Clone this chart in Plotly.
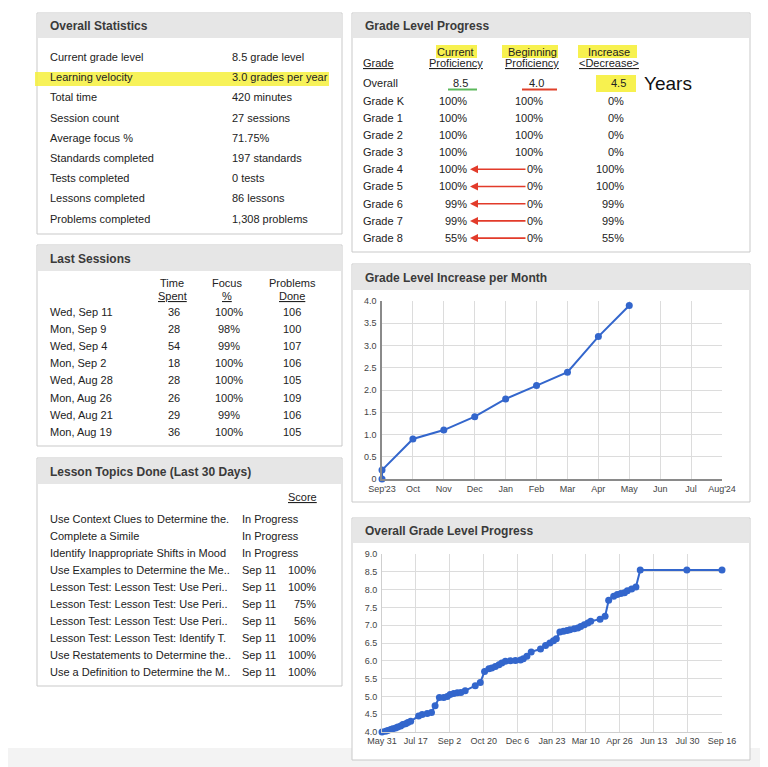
import plotly.graph_objects as go

# The page body has an 8px margin, so the figure is sized to fill the rest of the
# 768x767 window and reference pixel positions are offset by that margin.
OFF = 8
W, H = 768 - OFF, 767 - OFF
FONT = "Liberation Sans, Arial, sans-serif"

# ---------------- data ----------------
stat_labels = ["Current grade level", "Learning velocity", "Total time", "Session count",
               "Average focus %", "Standards completed", "Tests completed",
               "Lessons completed", "Problems completed"]
stat_values = ["8.5 grade level", "3.0 grades per year", "420 minutes", "27 sessions",
               "71.75%", "197 standards", "0 tests", "86 lessons", "1,308 problems"]

session_dates = ["Wed, Sep 11", "Mon, Sep 9", "Wed, Sep 4", "Mon, Sep 2",
                 "Wed, Aug 28", "Mon, Aug 26", "Wed, Aug 21", "Mon, Aug 19"]
session_time = [36, 28, 54, 18, 28, 26, 29, 36]
session_focus = ["100%", "98%", "99%", "100%", "100%", "100%", "99%", "100%"]
session_problems = [106, 100, 107, 106, 105, 109, 106, 105]

lesson_topics = ["Use Context Clues to Determine the.", "Complete a Simile",
                 "Identify Inappropriate Shifts in Mood", "Use Examples to Determine the Me..",
                 "Lesson Test: Lesson Test: Use Peri..", "Lesson Test: Lesson Test: Use Peri..",
                 "Lesson Test: Lesson Test: Use Peri..", "Lesson Test: Lesson Test: Identify T.",
                 "Use Restatements to Determine the..", "Use a Definition to Determine the M.."]
lesson_dates = ["In Progress", "In Progress", "In Progress", "Sep 11", "Sep 11",
                "Sep 11", "Sep 11", "Sep 11", "Sep 11", "Sep 11"]
lesson_scores = ["", "", "", "100%", "100%", "75%", "56%", "100%", "100%", "100%"]

grade_names = ["Grade K", "Grade 1", "Grade 2", "Grade 3", "Grade 4",
               "Grade 5", "Grade 6", "Grade 7", "Grade 8"]
current_prof = ["100%", "100%", "100%", "100%", "100%", "100%", "99%", "99%", "55%"]
beginning_prof = ["100%", "100%", "100%", "100%", "0%", "0%", "0%", "0%", "0%"]
increase_prof = ["0%", "0%", "0%", "0%", "100%", "100%", "99%", "99%", "55%"]
overall_current, overall_beginning, overall_increase = "8.5", "4.0", "4.5"

month_labels = ["Sep'23", "Oct", "Nov", "Dec", "Jan", "Feb", "Mar", "Apr",
                "May", "Jun", "Jul", "Aug'24"]
month_points = ["Sep'23", "Sep'23", "Oct", "Nov", "Dec", "Jan", "Feb", "Mar", "Apr", "May"]
month_increase = [0.0, 0.2, 0.9, 1.1, 1.4, 1.8, 2.1, 2.4, 3.2, 3.9]

progress_dates = ["2023-05-31", "2023-06-05", "2023-06-08", "2023-06-12", "2023-06-15",
                  "2023-06-19", "2023-06-22", "2023-06-26", "2023-06-29", "2023-07-03",
                  "2023-07-06", "2023-07-10", "2023-07-21", "2023-07-26", "2023-08-02",
                  "2023-08-08", "2023-08-13", "2023-08-19", "2023-08-25", "2023-08-30",
                  "2023-09-03", "2023-09-08", "2023-09-13", "2023-09-18", "2023-09-24",
                  "2023-10-08", "2023-10-15", "2023-10-21", "2023-10-27", "2023-10-31",
                  "2023-11-05", "2023-11-10", "2023-11-14", "2023-11-19", "2023-11-26",
                  "2023-12-03", "2023-12-10", "2023-12-14", "2023-12-19", "2023-12-25",
                  "2024-01-07", "2024-01-14", "2024-01-20", "2024-01-25", "2024-01-29",
                  "2024-02-03", "2024-02-08", "2024-02-13", "2024-02-17", "2024-02-23",
                  "2024-02-28", "2024-03-03", "2024-03-08", "2024-03-13", "2024-03-17",
                  "2024-03-30", "2024-04-06", "2024-04-11", "2024-04-18", "2024-04-23",
                  "2024-04-28", "2024-05-03", "2024-05-07", "2024-05-13", "2024-05-19",
                  "2024-05-25", "2024-07-29", "2024-09-16"]
progress_values = [4.00, 4.02, 4.04, 4.07, 4.09, 4.11, 4.14, 4.17, 4.21, 4.23,
                   4.27, 4.30, 4.45, 4.49, 4.52, 4.55, 4.74, 4.97, 4.97, 5.00,
                   5.05, 5.08, 5.10, 5.11, 5.16, 5.30, 5.39, 5.70, 5.78, 5.80,
                   5.84, 5.89, 5.94, 5.99, 6.00, 6.01, 6.02, 6.06, 6.13, 6.25,
                   6.33, 6.43, 6.50, 6.56, 6.62, 6.81, 6.83, 6.85, 6.87, 6.90,
                   6.92, 6.96, 7.01, 7.06, 7.11, 7.17, 7.25, 7.70, 7.81, 7.86,
                   7.89, 7.91, 7.97, 8.02, 8.07, 8.55, 8.55, 8.55]
progress_tick_dates = ["2023-05-31", "2023-07-17", "2023-09-02", "2023-10-20", "2023-12-06",
                       "2024-01-23", "2024-03-10", "2024-04-26", "2024-06-13", "2024-07-30",
                       "2024-09-16"]
progress_tick_text = ["May 31", "Jul 17", "Sep 2", "Oct 20", "Dec 6", "Jan 23",
                      "Mar 10", "Apr 26", "Jun 13", "Jul 30", "Sep 16"]

# ---------------- helpers (window pixel -> paper fraction) ----------------
def X(px):
    return (px - OFF) / W


def Y(py):
    return 1 - (py - OFF) / H


annotations = []
shapes = []


def txt(x, y, s, size=11, anchor="left", color="#222222", family=FONT):
    annotations.append(dict(x=X(x), y=Y(y), xref="paper", yref="paper", text=s,
                            showarrow=False, xanchor=anchor, yanchor="middle",
                            font=dict(size=size, color=color, family=family),
                            borderpad=0))


def rect(x0, y0, x1, y1, fill, line=None, width=1, layer="below"):
    shapes.append(dict(type="rect", xref="paper", yref="paper",
                       x0=X(x0), x1=X(x1), y0=Y(y0), y1=Y(y1),
                       fillcolor=fill, layer=layer,
                       line=dict(color=line or "rgba(0,0,0,0)", width=width if line else 0)))


def hline(x0, x1, y, color, width=2):
    shapes.append(dict(type="line", xref="paper", yref="paper",
                       x0=X(x0), x1=X(x1), y0=Y(y), y1=Y(y),
                       line=dict(color=color, width=width), layer="above"))


# background strip at bottom
rect(OFF, 748, 768, 767, "#f3f3f3")

# panels: (x0, y0, x1, y1, header_bottom, title)
panels = [
    (37, 13, 342, 234, 38, "Overall Statistics"),
    (37, 245, 342, 446, 271, "Last Sessions"),
    (37, 458, 342, 686, 484, "Lesson Topics Done (Last 30 Days)"),
    (352, 13, 750, 252, 38, "Grade Level Progress"),
    (352, 264, 750, 502, 290, "Grade Level Increase per Month"),
    (352, 518, 750, 760, 543, "Overall Grade Level Progress"),
]
for x0, y0, x1, y1, hb, title in panels:
    rect(x0, y0, x1, y1, "white", line="#c9c9c9")
    rect(x0 + 0.5, y0 + 0.5, x1 - 0.5, hb, "#e6e6e6")
    txt(x0 + 12, (y0 + hb) / 2 + 0.5, "<b>" + title + "</b>", size=12, color="#3a3a3a")

# ---- Overall statistics ----
rect(35, 72, 329, 86, "rgba(246,240,60,0.85)")
for i, (lab, val) in enumerate(zip(stat_labels, stat_values)):
    y = 57 + i * 20.2
    txt(49, y, lab)
    txt(231, y, val)

# ---- Last sessions ----
for cx, top, bot in [(172, "Time", "Spent"), (227, "Focus", "%"), (292, "Problems", "Done")]:
    txt(cx, 283, top, anchor="center")
    txt(cx, 296, "<u>" + bot + "</u>", anchor="center")
for i in range(len(session_dates)):
    y = 312 + i * 17.1
    txt(49, y, session_dates[i])
    txt(174, y, str(session_time[i]), anchor="center")
    txt(229, y, session_focus[i], anchor="center")
    txt(292, y, str(session_problems[i]), anchor="center")

# ---- Lesson topics ----
txt(318, 497, "<u>Score</u>", anchor="right")
for i in range(len(lesson_topics)):
    y = 519 + i * 17.0
    txt(49, y, lesson_topics[i])
    txt(241, y, lesson_dates[i])
    if lesson_scores[i]:
        txt(317, y, lesson_scores[i], anchor="right")

# ---- Grade level progress ----
yellow = "rgba(246,240,60,0.9)"
rect(436, 45, 477, 58, yellow)
rect(502, 45, 558, 58, yellow)
rect(578, 45, 637, 58, yellow)
txt(456, 52, "Current", anchor="center")
txt(532, 52, "Beginning", anchor="center")
txt(609, 52, "Increase", anchor="center")
txt(362, 63, "<u>Grade</u>")
txt(456, 63, "<u>Proficiency</u>", anchor="center")
txt(532, 63, "<u>Proficiency</u>", anchor="center")
txt(609, 63, "<u>&lt;Decrease&gt;</u>", anchor="center")

rect(596, 75, 636, 92, yellow)
txt(362, 83, "Overall")
txt(469, 83, overall_current, anchor="right")
txt(545, 83, overall_beginning, anchor="right")
txt(627, 83, overall_increase, anchor="right")
hline(448, 477, 89.5, "#5cb85c", 2)
hline(522, 557, 89.5, "#e0402a", 2)
txt(643, 84, "Years", size=19, color="#111111")

for i in range(len(grade_names)):
    y = 100.5 + i * 17.2
    txt(362, y, grade_names[i])
    txt(468, y, current_prof[i], anchor="right")
    txt(544, y, beginning_prof[i], anchor="right")
    txt(625, y, increase_prof[i], anchor="right")
    if beginning_prof[i] == "0%":
        annotations.append(dict(x=X(470), y=Y(y), xref="paper", yref="paper", text="",
                                showarrow=True, ax=57, ay=0, axref="pixel", ayref="pixel",
                                arrowhead=2, arrowsize=1, arrowwidth=1.6,
                                arrowcolor="#e23b2a", standoff=0))

# ---------------- charts ----------------
blue = "#3366cc"
fig = go.Figure()
fig.add_trace(go.Scatter(x=month_points, y=month_increase, mode="lines+markers",
                         line=dict(color=blue, width=2), marker=dict(size=7, color=blue),
                         cliponaxis=False, xaxis="x", yaxis="y", showlegend=False,
                         hoverinfo="skip"))
fig.add_trace(go.Scatter(x=progress_dates, y=progress_values, mode="lines+markers",
                         line=dict(color=blue, width=2), marker=dict(size=7, color=blue),
                         cliponaxis=False, xaxis="x2", yaxis="y2", showlegend=False,
                         hoverinfo="skip"))

tickfont = dict(size=9, color="#444444", family=FONT)
grid = "#dcdcdc"
xd = [X(382), X(722)]

fig.update_layout(
    template="none",
    width=W, height=H, margin=dict(l=0, r=0, t=0, b=0, pad=0, autoexpand=False),
    autosize=False,
    paper_bgcolor="white", plot_bgcolor="rgba(0,0,0,0)",
    font=dict(family=FONT),
    showlegend=False,
    xaxis=dict(domain=xd, anchor="y", type="category", categoryorder="array",
               categoryarray=month_labels, range=[0, 11], tickvals=month_labels,
               showgrid=True, gridcolor=grid, gridwidth=1, showline=True,
               linecolor="#8a8a8a", linewidth=1.5, ticks="", tickfont=tickfont,
               ticklabelstandoff=0, zeroline=False, fixedrange=True, automargin=False),
    yaxis=dict(domain=[Y(479), Y(301)], anchor="x", range=[0, 4],
               tickvals=[0, 0.5, 1, 1.5, 2, 2.5, 3, 3.5, 4],
               ticktext=["0", "0.5", "1.0", "1.5", "2.0", "2.5", "3.0", "3.5", "4.0"],
               showgrid=True, gridcolor=grid, showline=True, linecolor="#8a8a8a",
               linewidth=1.5, ticks="", tickfont=tickfont, ticklabelstandoff=2,
               zeroline=False, fixedrange=True, automargin=False),
    xaxis2=dict(domain=xd, anchor="y2", type="date", range=["2023-05-31", "2024-09-16"],
                tickvals=progress_tick_dates, ticktext=progress_tick_text,
                showgrid=True, gridcolor=grid, showline=True, linecolor="#cfcfcf",
                ticks="", tickfont=tickfont, ticklabelstandoff=0, zeroline=False,
                fixedrange=True, automargin=False),
    yaxis2=dict(domain=[Y(732), Y(554)], anchor="x2", range=[4, 9],
                tickvals=[4, 4.5, 5, 5.5, 6, 6.5, 7, 7.5, 8, 8.5, 9],
                ticktext=["4.0", "4.5", "5.0", "5.5", "6.0", "6.5", "7.0", "7.5",
                          "8.0", "8.5", "9.0"],
                showgrid=True, gridcolor=grid, showline=True, linecolor="#cfcfcf",
                ticks="", tickfont=tickfont, ticklabelstandoff=2, zeroline=False,
                fixedrange=True, automargin=False),
    shapes=shapes,
    annotations=annotations,
)

fig.write_html("out.html", config={"displayModeBar": False})
